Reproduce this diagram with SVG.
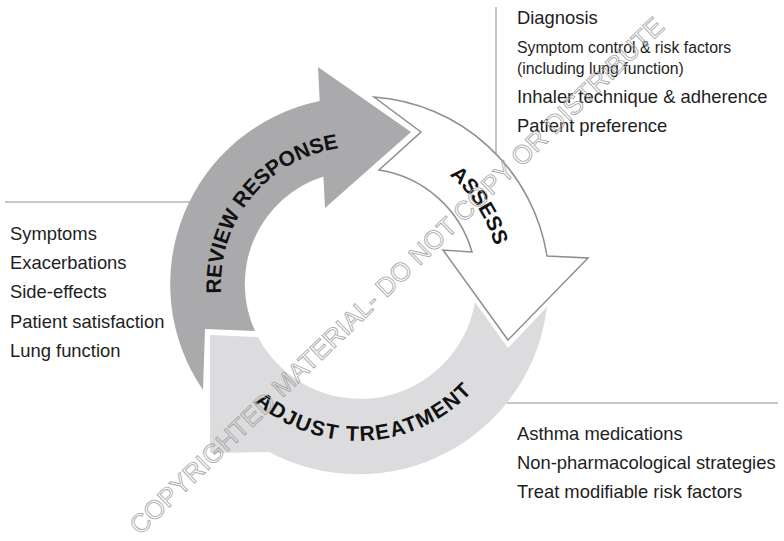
<svg xmlns="http://www.w3.org/2000/svg" width="784" height="541" viewBox="0 0 784 541">
<style>
.lst{font-family:"Liberation Sans",Arial,sans-serif;font-size:18.4px;fill:#1e1e1e}
.sm{font-size:15.8px}
.lbl{font-family:"Liberation Sans",Arial,sans-serif;font-size:21px;font-weight:bold;fill:#111}
.con{stroke:#b4b4b4;stroke-width:1.6;fill:none}
.wm{font-family:"Liberation Sans",Arial,sans-serif;font-size:26px;fill:none;stroke:#a2a2a2;stroke-width:0.8}
</style>
<defs>
<path id="pRev" d="M253.1,372.1 A137,137 0 0 1 422.3,163"/>
<path id="pAss" d="M333.3,144.2 A142,142 0 0 1 475.2,364.2"/>
<path id="pAdj" d="M210.5,337.7 A157,157 0 0 0 510.3,322"/>
</defs>
<rect width="784" height="541" fill="#fff"/>
<g id="connectors">
<line class="con" x1="5" y1="202" x2="195" y2="202"/>
<line class="con" x1="496" y1="7" x2="496" y2="160"/>
<line class="con" x1="500" y1="403" x2="778" y2="403"/>
</g>
<g id="node-review">
<path fill="#aaaaac" d="M203,390 A187,187 0 0 1 319.7,101 L318,67 L411,132 L325,208 L323.4,176.4 A113,113 0 0 0 255,331 L205,329 Z"/>
<text class="lbl"><textPath href="#pRev" startOffset="50%" text-anchor="middle">REVIEW RESPONSE</textPath></text>
</g>
<g id="node-adjust">
<path fill="#dcdcde" d="M475,302 L508,348 L547,307 A190,190 0 0 1 269,452 L210,453 L210,335 L258,337 A116,116 0 0 0 475,302 Z"/>
<text class="lbl" letter-spacing="1.5"><textPath href="#pAdj" startOffset="50%" text-anchor="middle">ADJUST TREATMENT</textPath></text>
</g>
<g id="node-assess">
<path fill="#fff" stroke="#8e8e8e" stroke-width="1.5" stroke-linejoin="miter" d="M374,97 A189,189 0 0 1 547,256 L588,258 L508,340 L443,250 L472,252 A115,115 0 0 0 379,170 L421,132 Z"/>
<text class="lbl"><textPath href="#pAss" startOffset="50%" text-anchor="middle">ASSESS</textPath></text>
</g>
<g id="list-assess">
<text class="lst" x="517" y="24">Diagnosis</text>
<text class="lst sm" x="517" y="53">Symptom control &amp; risk factors</text>
<text class="lst sm" x="517" y="74">(including lung function)</text>
<text class="lst" x="517" y="103">Inhaler technique &amp; adherence</text>
<text class="lst" x="517" y="132">Patient preference</text>
</g>
<g id="list-review">
<text class="lst" x="10" y="240">Symptoms</text>
<text class="lst" x="10" y="269">Exacerbations</text>
<text class="lst" x="10" y="298">Side-effects</text>
<text class="lst" x="10" y="328">Patient satisfaction</text>
<text class="lst" x="10" y="357">Lung function</text>
</g>
<g id="list-adjust">
<text class="lst" x="517" y="440">Asthma medications</text>
<text class="lst" x="517" y="469">Non-pharmacological strategies</text>
<text class="lst" x="517" y="498">Treat modifiable risk factors</text>
</g>
<text class="wm" transform="translate(140,536) rotate(-44)">COPYRIGHTED MATERIAL- DO NOT COPY OR DISTRIBUTE</text>
</svg>
